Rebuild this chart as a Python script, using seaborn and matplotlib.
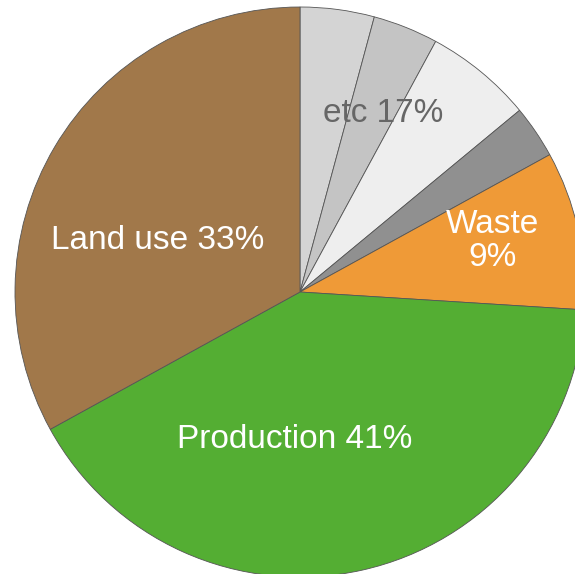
import matplotlib
matplotlib.use("Agg")
import matplotlib.pyplot as plt
import seaborn as sns

# Emission sources (percent of total), clockwise from 12 o'clock
categories = ["etc a", "etc b", "etc c", "etc d", "Waste", "Production", "Land use"]
values = [4.2, 3.7, 6.1, 3.0, 9, 41, 33]
colors = ["#d4d4d4", "#c4c4c4", "#eeeeee", "#909090", "#ef9a37", "#54ae33", "#a1784a"]

etc_share = 17

sns.set_style("white")
plt.rcParams["font.family"] = ["Liberation Sans", "DejaVu Sans"]

fig = plt.figure(figsize=(5.75, 5.74), dpi=100)
ax = fig.add_axes([0, 0, 1, 1])

ax.pie(values, colors=colors, startangle=90, counterclock=False, radius=1.0,
       wedgeprops=dict(edgecolor="#555555", linewidth=0.6))

ax.set_xlim(-300 / 285, 275 / 285)
ax.set_ylim((292 - 574) / 285, 292 / 285)
ax.set_aspect("auto")
ax.axis("off")

fs = 24
ax.text(0.291, 0.628, f"etc {etc_share}%", color="#666666", fontsize=fs,
        ha="center", va="center")
ax.text(0.677, 0.178, f"Waste\n{values[4]}%", color="white", fontsize=fs,
        ha="center", va="center", linespacing=1.1)
ax.text(-0.018, -0.519, f"Production {values[5]}%", color="white", fontsize=fs,
        ha="center", va="center")
ax.text(-0.498, 0.182, f"Land use {values[6]}%", color="white", fontsize=fs,
        ha="center", va="center")

fig.savefig("out.png", dpi=100)
